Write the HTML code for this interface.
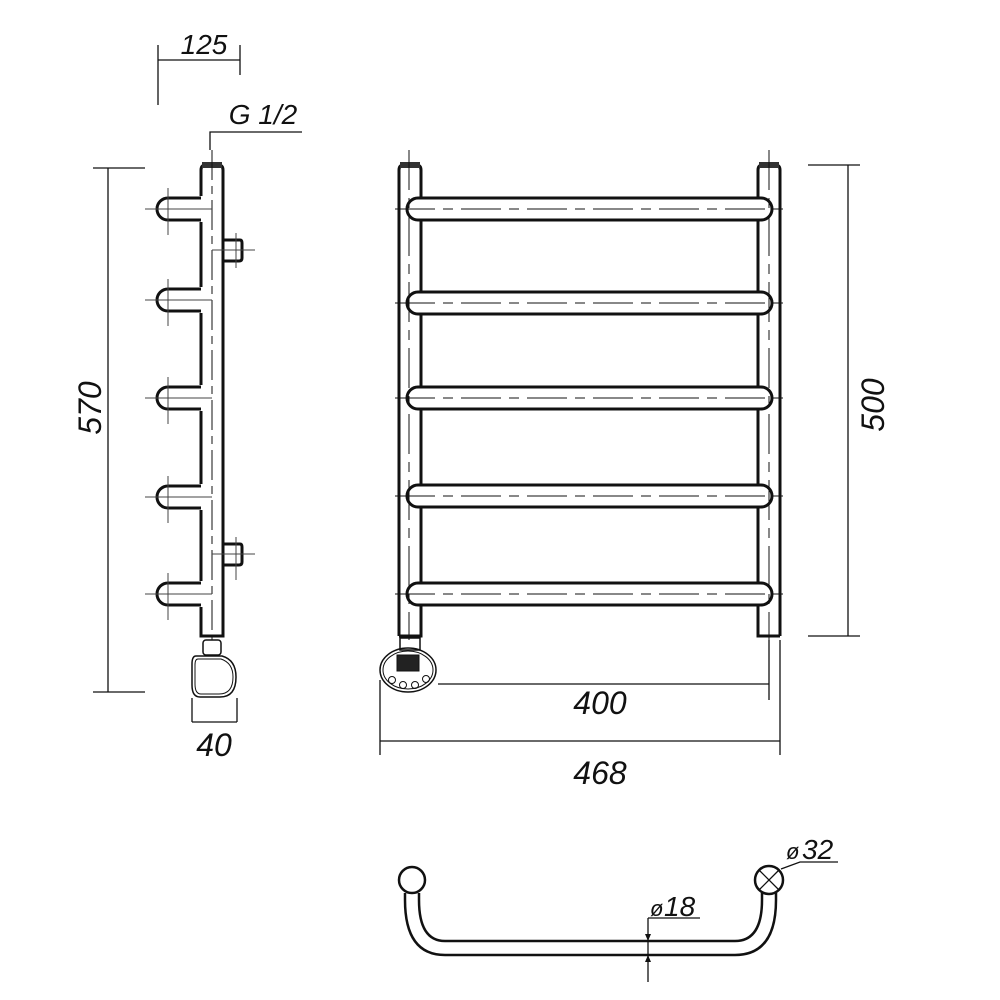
<!DOCTYPE html>
<html><head><style>body{margin:0;background:#fff}svg{display:block}text{font-family:"Liberation Sans",sans-serif;font-style:italic;fill:#111}</style></head><body>
<svg width="1000" height="1000" viewBox="0 0 1000 1000" xmlns="http://www.w3.org/2000/svg">
<g fill="none" stroke="#111">
<g stroke-width="3">
<path d="M399 636 V170 Q399 165 404 165 H416 Q421 165 421 170 V198"/>
<path d="M421 220 V292 M421 314 V387 M421 409 V485 M421 507 V583 M421 605 V636 H399"/>
<path d="M780 636 V170 Q780 165 775 165 H763 Q758 165 758 170 V198"/>
<path d="M758 220 V292 M758 314 V387 M758 409 V485 M758 507 V583 M758 605 V636 H780"/>
</g>
<rect x="400" y="162" width="20" height="6" fill="#333" stroke="none"/>
<rect x="759" y="162" width="20" height="6" fill="#333" stroke="none"/>
<g stroke-width="3">
<rect x="407" y="198" width="365" height="22" rx="11"/>
<rect x="407" y="292" width="365" height="22" rx="11"/>
<rect x="407" y="387" width="365" height="22" rx="11"/>
<rect x="407" y="485" width="365" height="22" rx="11"/>
<rect x="407" y="583" width="365" height="22" rx="11"/>
</g>
<g stroke-width="1" stroke-dasharray="40 8 10 8">
<line x1="395" y1="209" x2="788" y2="209"/><line x1="395" y1="303" x2="788" y2="303"/>
<line x1="395" y1="398" x2="788" y2="398"/><line x1="395" y1="496" x2="788" y2="496"/>
<line x1="395" y1="594" x2="788" y2="594"/>
<line x1="409" y1="150" x2="409" y2="640"/><line x1="769" y1="150" x2="769" y2="640"/>
</g>
<rect x="400" y="638" width="20" height="12" stroke-width="1.5"/>
<ellipse cx="408" cy="670" rx="28" ry="22" stroke-width="1.5"/>
<ellipse cx="408" cy="670" rx="25" ry="19" stroke-width="1"/>
<rect x="397" y="655" width="22" height="16" fill="#222" stroke-width="1"/>
<circle cx="392" cy="680" r="3.5"/><circle cx="403" cy="685" r="3.5"/><circle cx="415" cy="685" r="3.5"/><circle cx="426" cy="679" r="3.5"/>
<g stroke-width="1.3">
<line x1="848" y1="165" x2="848" y2="636"/><line x1="808" y1="165" x2="860" y2="165"/><line x1="808" y1="636" x2="860" y2="636"/>
<line x1="438" y1="684" x2="769" y2="684"/><line x1="769" y1="640" x2="769" y2="700"/>
<line x1="380" y1="741" x2="780" y2="741"/><line x1="380" y1="680" x2="380" y2="755"/><line x1="780" y1="640" x2="780" y2="755"/>
</g>
<g stroke-width="3">
<path d="M201 196 V170 Q201 165 206 165 H218 Q223 165 223 170 V636 H201 V607"/>
<path d="M201 222 V287 M201 313 V385 M201 411 V484 M201 510 V581"/>
</g>
<rect x="202" y="162" width="20" height="6" fill="#333" stroke="none"/>
<g stroke-width="3">
<path d="M201 198 H168 A11 11 0 0 0 168 220 H201"/>
<path d="M201 289 H168 A11 11 0 0 0 168 311 H201"/>
<path d="M201 387 H168 A11 11 0 0 0 168 409 H201"/>
<path d="M201 486 H168 A11 11 0 0 0 168 508 H201"/>
<path d="M201 583 H168 A11 11 0 0 0 168 605 H201"/>
<path d="M223 240 H240 Q242 240 242 243 V258 Q242 261 239 261 H223"/>
<path d="M223 544 H240 Q242 544 242 547 V562 Q242 565 239 565 H223"/>
</g>
<g stroke-width="1" stroke-dasharray="30 6 8 6">
<line x1="212" y1="150" x2="212" y2="640"/>
</g>
<g stroke-width="1" stroke="#444">
<line x1="145" y1="209" x2="212" y2="209"/><line x1="168" y1="188" x2="168" y2="235"/>
<line x1="145" y1="300" x2="212" y2="300"/><line x1="168" y1="279" x2="168" y2="326"/>
<line x1="145" y1="398" x2="212" y2="398"/><line x1="168" y1="377" x2="168" y2="424"/>
<line x1="145" y1="497" x2="212" y2="497"/><line x1="168" y1="476" x2="168" y2="523"/>
<line x1="145" y1="594" x2="212" y2="594"/><line x1="168" y1="573" x2="168" y2="620"/>
<line x1="212" y1="250" x2="255" y2="250"/><line x1="236" y1="233" x2="236" y2="268"/>
<line x1="212" y1="554" x2="255" y2="554"/><line x1="236" y1="537" x2="236" y2="580"/>
</g>
<rect x="203" y="640" width="18" height="15" rx="3" stroke-width="1.5"/>
<path d="M196 656 H222 Q236 660 236 677 Q236 697 220 697 H200 Q192 697 192 685 V664 Q192 656 196 656 Z" stroke-width="1.5"/>
<path d="M198 659 H221 Q233 663 233 677 Q233 694 219 694 H201 Q195 694 195 684 V665 Q195 659 198 659 Z" stroke-width="1"/>
<g stroke-width="1.3">
<line x1="192" y1="698" x2="192" y2="722"/><line x1="237" y1="698" x2="237" y2="722"/><line x1="192" y1="722" x2="237" y2="722"/>
<line x1="108" y1="168" x2="108" y2="692"/><line x1="93" y1="168" x2="145" y2="168"/><line x1="93" y1="692" x2="145" y2="692"/>
<line x1="158" y1="60" x2="240" y2="60"/><line x1="158" y1="45" x2="158" y2="105"/><line x1="240" y1="45" x2="240" y2="75"/>
<polyline points="210,150 210,132 302,132"/>
</g>
<g stroke-width="2.5">
<path d="M405 893 V900 Q405 955 445 955 H735 Q776 955 776 900 V893"/>
<path d="M419 893 V900 Q419 941 445 941 H735 Q762 941 762 900 V893"/>
<circle cx="412" cy="880" r="13"/><circle cx="769" cy="880" r="14"/>
<path d="M759 870 L779 890 M779 870 L759 890" stroke-width="1.3"/>
</g>
<g stroke-width="1.3">
<line x1="648" y1="918" x2="648" y2="982"/><line x1="648" y1="918" x2="700" y2="918"/>
<polyline points="781,869 800,862 838,862"/>
</g>
<path d="M645 934 L648 941 L651 934 Z M645 962 L648 955 L651 962 Z" fill="#111" stroke="none"/>
</g>
<g font-size="32">
<text x="600" y="714" text-anchor="middle">400</text>
<text x="600" y="784" text-anchor="middle">468</text>
<text x="214" y="756" text-anchor="middle">40</text>
<text transform="translate(884,405) rotate(-90)" text-anchor="middle">500</text>
<text transform="translate(101,408) rotate(-90)" text-anchor="middle">570</text>
</g>
<g font-size="28">
<text x="204" y="54" text-anchor="middle">125</text>
<text x="263" y="124" text-anchor="middle">G 1/2</text>
<text x="664" y="916">18</text>
<text x="802" y="859">32</text>
<text x="650" y="916" font-size="22">ø</text>
<text x="786" y="859" font-size="22">ø</text>
</g>
</svg>
</body></html>
